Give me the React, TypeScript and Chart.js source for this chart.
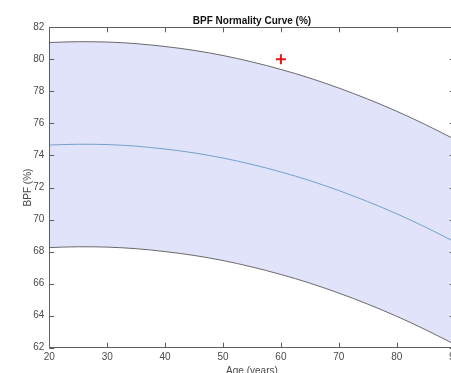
import React, { useEffect, useRef } from 'react';
import { Chart, registerables } from 'chart.js';

Chart.register(...registerables);

// Data
const ages = [20, 25, 30, 35, 40, 45, 50, 55, 60, 65, 70, 75, 80, 85, 90];
const meanBpf = [74.65, 74.7, 74.68, 74.58, 74.4, 74.16, 73.84, 73.44, 72.97, 72.43, 71.81, 71.12, 70.36, 69.52, 68.61];
const upperBpf = [81.05, 81.1, 81.08, 80.98, 80.8, 80.56, 80.24, 79.84, 79.37, 78.83, 78.21, 77.52, 76.76, 75.92, 75.01];
const lowerBpf = [68.25, 68.3, 68.28, 68.18, 68.0, 67.76, 67.44, 67.04, 66.57, 66.03, 65.41, 64.72, 63.96, 63.12, 62.21];
const patientAge = [60];
const patientBpf = [80];

const chartTitle = 'BPF Normality Curve (%)';
const xTitle = 'Age (years)';
const yTitle = 'BPF (%)';

const CANVAS_W = 480;
const CANVAS_H = 390;

const FONT = '"Liberation Sans", Arial, Helvetica, sans-serif';
const AXIS_COLOR = '#5e5e5e';
const TEXT_COLOR = '#4a4a4a';

const boxPlugin = {
  id: 'matlabBox',
  afterDraw(chart: any) {
    const { ctx, chartArea: a, scales } = chart;
    const L = 5;
    ctx.save();
    ctx.strokeStyle = AXIS_COLOR;
    ctx.lineWidth = 1;
    ctx.beginPath();
    ctx.rect(Math.round(a.left) + 0.5, Math.round(a.top) + 0.5, Math.round(a.right - a.left), Math.round(a.bottom - a.top));
    const xs = scales.x;
    const ys = scales.y;
    xs.ticks.forEach((t: any) => {
      const px = Math.round(xs.getPixelForValue(t.value)) + 0.5;
      ctx.moveTo(px, a.bottom);
      ctx.lineTo(px, a.bottom - L);
      ctx.moveTo(px, a.top);
      ctx.lineTo(px, a.top + L);
    });
    ys.ticks.forEach((t: any) => {
      const py = Math.round(ys.getPixelForValue(t.value)) + 0.5;
      ctx.moveTo(a.left, py);
      ctx.lineTo(a.left + L, py);
      ctx.moveTo(a.right, py);
      ctx.lineTo(a.right - L, py);
    });
    ctx.stroke();
    ctx.restore();
  },
};

export default function App() {
  const canvasRef = useRef<HTMLCanvasElement | null>(null);

  useEffect(() => {
    if (!canvasRef.current) return;
    const toPts = (ys: number[]) => ages.map((a, i) => ({ x: a, y: ys[i] }));
    const chart = new Chart(canvasRef.current, {
      type: 'line',
      data: {
        datasets: [
          {
            label: 'Upper',
            data: toPts(upperBpf),
            borderColor: '#6a6a6a',
            borderWidth: 1,
            backgroundColor: '#e1e3fa',
            fill: 2,
            pointRadius: 0,
            cubicInterpolationMode: 'monotone',
          },
          {
            label: 'Mean',
            data: toPts(meanBpf),
            borderColor: '#74a0cc',
            borderWidth: 1,
            fill: false,
            pointRadius: 0,
            cubicInterpolationMode: 'monotone',
          },
          {
            label: 'Lower',
            data: toPts(lowerBpf),
            borderColor: '#6a6a6a',
            borderWidth: 1,
            fill: false,
            pointRadius: 0,
            cubicInterpolationMode: 'monotone',
          },
          {
            label: 'Patient',
            data: patientAge.map((a, i) => ({ x: a, y: patientBpf[i] })),
            showLine: false,
            pointStyle: 'cross',
            pointRadius: 5,
            pointBorderWidth: 2,
            borderColor: '#e01818',
            backgroundColor: '#e01818',
            fill: false,
          },
        ],
      },
      options: {
        responsive: false,
        animation: false,
        devicePixelRatio: 1,
        layout: {
          padding: { left: 0, top: 0, right: 25.4, bottom: 12.3 },
        },
        plugins: {
          legend: { display: false },
          tooltip: { enabled: false },
          filler: { drawTime: 'beforeDatasetsDraw' },
          title: {
            display: true,
            text: chartTitle,
            fullSize: false,
            color: '#111',
            font: { family: FONT, size: 10, weight: 'bold', lineHeight: 1.2 },
            padding: { top: 15, bottom: 0.3 },
          },
        },
        scales: {
          x: {
            type: 'linear',
            min: 20,
            max: 90,
            grid: { display: false, drawTicks: false },
            border: { display: false },
            ticks: {
              stepSize: 10,
              color: TEXT_COLOR,
              font: { family: FONT, size: 10 },
              padding: 3.5,
              maxRotation: 0,
            },
            title: {
              display: true,
              text: xTitle,
              color: TEXT_COLOR,
              font: { family: FONT, size: 10 },
              padding: { top: 0, bottom: 0.7 },
            },
            afterFit: (s: any) => {
              s.height = 30;
            },
          },
          y: {
            type: 'linear',
            min: 62,
            max: 82,
            grid: { display: false, drawTicks: false },
            border: { display: false },
            ticks: {
              stepSize: 2,
              color: TEXT_COLOR,
              font: { family: FONT, size: 10 },
              padding: 5,
            },
            title: {
              display: true,
              text: yTitle,
              color: TEXT_COLOR,
              font: { family: FONT, size: 10 },
              padding: { top: 22, bottom: 0 },
            },
            afterFit: (s: any) => {
              s.width = 49.3;
            },
          },
        },
      },
      plugins: [boxPlugin],
    } as any);
    return () => chart.destroy();
  }, []);

  return (
    <div
      style={{
        position: 'fixed',
        left: 0,
        top: 0,
        width: 451,
        height: 373,
        overflow: 'hidden',
        background: '#fff',
      }}
    >
      <canvas ref={canvasRef} width={CANVAS_W} height={CANVAS_H} style={{ display: 'block' }} />
    </div>
  );
}
